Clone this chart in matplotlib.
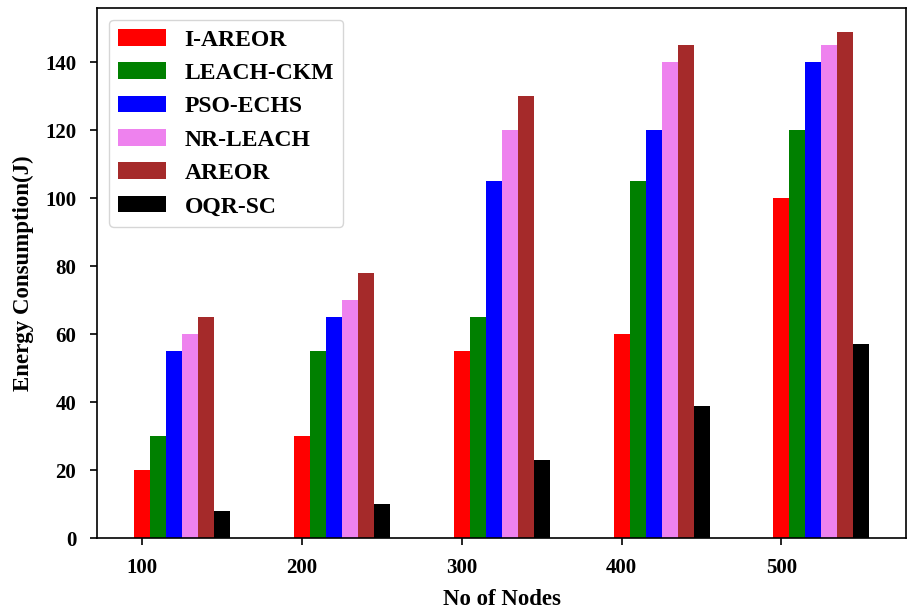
import numpy as np
import matplotlib
matplotlib.use("Agg")
import matplotlib.pyplot as plt

plt.rcParams['font.family'] = ['Liberation Serif', 'DejaVu Serif']
plt.rcParams['font.weight'] = 'bold'

# Number of nodes
nodes = [100, 200, 300, 400, 500]

# Energy consumption (J) per protocol
i_areor = [20, 30, 55, 60, 100]
leach_ckm = [30, 55, 65, 105, 120]
pso_echs = [55, 65, 105, 120, 140]
nr_leach = [60, 70, 120, 140, 145]
areor = [65, 78, 130, 145, 149]
oqr_sc = [8, 10, 23, 39, 57]

labels = ['I-AREOR', 'LEACH-CKM', 'PSO-ECHS', 'NR-LEACH', 'AREOR', 'OQR-SC']
colors = ['red', 'green', 'blue', 'violet', 'brown', 'black']
series = [i_areor, leach_ckm, pso_echs, nr_leach, areor, oqr_sc]

fig = plt.figure(figsize=(9.08, 6.08), dpi=100)
ax = fig.add_axes([0.107, 0.115, 0.891, 0.872])

width = 10
x = np.array(nodes)
for i, (vals, lab, col) in enumerate(zip(series, labels, colors)):
    ax.bar(x + i * width, vals, width, label=lab, color=col)

ax.set_xticks(nodes)
ax.set_ylim(0, 156)
ax.tick_params(labelsize=15, length=5, width=1.2)
ax.tick_params(axis='y', pad=10)
ax.tick_params(axis='x', pad=9)
for t in ax.get_xticklabels() + ax.get_yticklabels():
    t.set_fontweight('bold')
for s in ax.spines.values():
    s.set_linewidth(1.2)

ax.set_xlabel('No of Nodes', fontsize=16.5, fontweight='bold', labelpad=8)
ax.set_ylabel('Energy Consumption(J)', fontsize=16.5, fontweight='bold', labelpad=8)

ax.legend(loc='upper left', prop={'size': 17, 'weight': 'bold'})

fig.savefig('out.png', dpi=100)
